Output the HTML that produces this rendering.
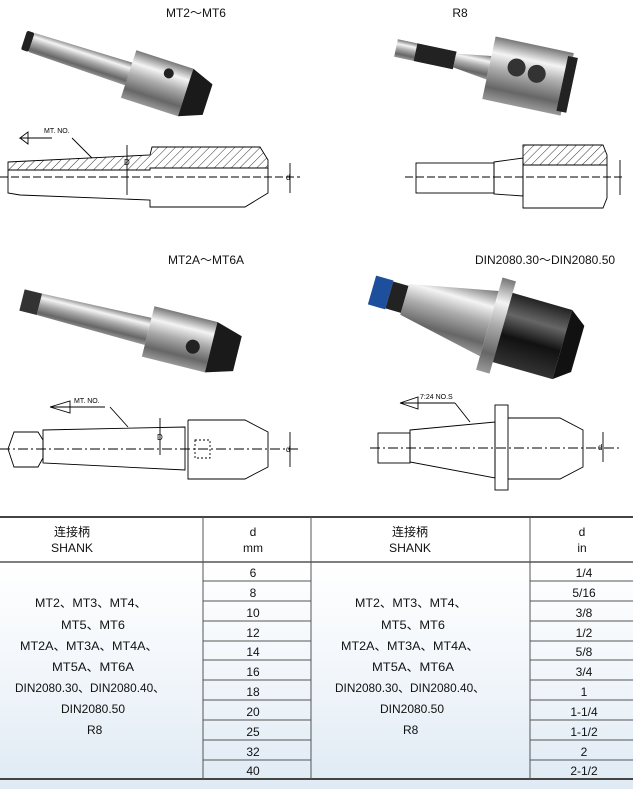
<!DOCTYPE html>
<html><head><meta charset="utf-8"><style>
body{margin:0;background:#fff;width:633px;height:789px;overflow:hidden;font-family:"Liberation Sans","Noto Sans CJK SC",sans-serif}
svg{position:absolute;left:0;top:0}
</style></head><body>
<svg width="633" height="789" viewBox="0 0 633 789" xmlns="http://www.w3.org/2000/svg">
<defs>
<linearGradient id="m" x1="0" y1="0" x2="0" y2="1">
<stop offset="0" stop-color="#777"/><stop offset=".25" stop-color="#f4f4f4"/><stop offset=".5" stop-color="#aaa"/><stop offset=".8" stop-color="#666"/><stop offset="1" stop-color="#999"/></linearGradient>
<linearGradient id="d" x1="0" y1="0" x2="0" y2="1">
<stop offset="0" stop-color="#222"/><stop offset=".3" stop-color="#666"/><stop offset=".6" stop-color="#111"/><stop offset="1" stop-color="#333"/></linearGradient>
<linearGradient id="bg" x1="0" y1="0" x2="0" y2="1">
<stop offset="0" stop-color="#fff"/><stop offset=".45" stop-color="#f3f7fb"/><stop offset="1" stop-color="#dfeaf4"/></linearGradient>
<pattern id="h" width="6" height="6" patternUnits="userSpaceOnUse" patternTransform="rotate(45)"><line x1="0" y1="0" x2="0" y2="6" stroke="#000" stroke-width="0.8"/></pattern>
</defs>
<g font-size="12" fill="#111" text-anchor="middle">
<text x="196" y="17">MT2～MT6</text><text x="460" y="17">R8</text>
<text x="206" y="264">MT2A～MT6A</text><text x="545" y="264">DIN2080.30～DIN2080.50</text>
</g>
<g transform="translate(24,40) rotate(18)">
<rect x="0" y="-10" width="8" height="20" fill="#222" rx="2"/>
<polygon points="8,-10 115,-12 115,12 8,10" fill="url(#m)"/>
<rect x="110" y="-25" width="60" height="50" fill="url(#m)"/>
<polygon points="170,-25 193,-16 193,16 170,25" fill="#1a1a1a"/>
<circle cx="148" cy="-13" r="5" fill="#222"/>
</g>
<g transform="translate(396,48) rotate(12)">
<rect x="0" y="-9" width="60" height="18" fill="url(#m)"/>
<rect x="20" y="-9" width="40" height="18" fill="#222"/>
<polygon points="60,-7 95,-12 95,12 60,7" fill="url(#m)"/>
<rect x="95" y="-32" width="80" height="64" fill="url(#m)"/>
<rect x="170" y="-28" width="10" height="56" fill="#222"/>
<circle cx="122" cy="-6" r="9" fill="#333"/><circle cx="143" cy="-4" r="9" fill="#333"/>
</g>
<g transform="translate(22,300) rotate(14)">
<rect x="0" y="-11" width="18" height="22" fill="#333"/>
<polygon points="18,-11 130,-14 130,14 18,11" fill="url(#m)"/>
<rect x="130" y="-26" width="65" height="52" fill="url(#m)"/>
<polygon points="195,-26 222,-18 222,18 195,26" fill="#1a1a1a"/>
<circle cx="177" cy="4" r="7" fill="#222"/>
</g>
<g transform="translate(372,290) rotate(16)">
<rect x="0" y="-15" width="18" height="30" fill="#1e4f9c"/>
<rect x="18" y="-14" width="16" height="28" fill="#222"/>
<polygon points="34,-16 122,-34 122,34 34,16" fill="url(#m)"/>
<rect x="122" y="-48" width="14" height="96" fill="url(#m)"/>
<rect x="136" y="-36" width="62" height="72" fill="url(#d)"/>
<polygon points="198,-36 214,-24 214,24 198,36" fill="#111"/>
</g>
<g fill="none" stroke="#000" stroke-width="0.9">
<polygon points="8,162 150,155 152,147 260,147 268,160 268,168 150,168 150,170 8,170" fill="url(#h)"/>
<polyline points="8,170 8,193 20,195 150,200 150,207 245,207 268,193 268,168"/>
<line x1="0" y1="177" x2="300" y2="177" stroke-dasharray="8,3"/>
<polyline points="52,138 20,138 28,132 28,144 20,138"/>
<line x1="72" y1="138" x2="92" y2="158"/><text x="44" y="133" font-size="7" stroke="none" fill="#000">MT. NO.</text>
<line x1="290" y1="163" x2="290" y2="193"/><text x="286" y="180" font-size="8" stroke="none" fill="#000">d</text>
<line x1="127" y1="145" x2="127" y2="195"/><text x="124" y="165" font-size="8" stroke="none" fill="#000">D</text>
<polygon points="523,145 603,145 607,155 607,165 523,165" fill="url(#h)"/>
<rect x="416" y="163" width="78" height="30"/>
<polygon points="494,162 523,158 523,196 494,194"/>
<polyline points="523,165 523,208 603,208 607,198 607,165"/>
<line x1="405" y1="177" x2="625" y2="177" stroke-dasharray="8,3"/>
<line x1="620" y1="160" x2="620" y2="195"/>
<!-- d3 -->
<polygon points="43,430 185,427 185,470 43,463"/>
<polygon points="8,449 14,432 38,432 43,440 43,458 38,467 14,467"/>
<polyline points="188,420 245,420 268,432 268,467 245,479 188,479 188,420"/>
<line x1="0" y1="449" x2="300" y2="449" stroke-dasharray="10,3,2,3"/>
<polyline points="105,407 50,407 70,401 70,413 50,407"/><line x1="110" y1="407" x2="128" y2="427"/>
<text x="74" y="403" font-size="7" stroke="none" fill="#000">MT. NO.</text>
<line x1="160" y1="418" x2="160" y2="455"/><text x="157" y="440" font-size="8" stroke="none" fill="#000">D</text>
<line x1="290" y1="432" x2="290" y2="467"/><text x="286" y="452" font-size="8" stroke="none" fill="#000">d</text>
<rect x="195" y="440" width="15" height="18" stroke-dasharray="2,2"/>
<!-- d4 -->
<rect x="378" y="433" width="32" height="30"/>
<polygon points="410,430 495,422 495,478 410,462"/>
<rect x="495" y="405" width="13" height="85"/>
<polyline points="508,418 560,418 583,430 583,467 560,479 508,479"/>
<line x1="370" y1="448" x2="620" y2="448" stroke-dasharray="10,3,2,3"/>
<polyline points="455,403 400,403 418,397 418,409 400,403"/><line x1="455" y1="403" x2="470" y2="422"/>
<text x="420" y="399" font-size="7" stroke="none" fill="#000">7:24 NO.S</text>
<line x1="603" y1="432" x2="603" y2="462"/><text x="598" y="450" font-size="8" stroke="none" fill="#000">d</text>
</g>
<rect x="0" y="561" width="633" height="228" fill="url(#bg)"/>
<line x1="0" y1="517" x2="633" y2="517" stroke="#444" stroke-width="2"/>
<line x1="0" y1="562" x2="633" y2="562" stroke="#555" stroke-width="1.5"/>
<line x1="0" y1="779" x2="633" y2="779" stroke="#444" stroke-width="2"/>
<g stroke="#555" stroke-width="1">
<line x1="203" y1="517" x2="203" y2="779"/><line x1="311" y1="517" x2="311" y2="779"/><line x1="530" y1="517" x2="530" y2="779"/>
<path d="M203 581H311M203 601H311M203 621H311M203 641H311M203 660H311M203 680H311M203 700H311M203 720H311M203 740H311M203 760H311"/>
<path d="M530 581H633M530 601H633M530 621H633M530 641H633M530 660H633M530 680H633M530 700H633M530 720H633M530 740H633M530 760H633"/>
</g>
<g font-size="12" fill="#111" text-anchor="middle">
<text x="72" y="536">连接柄</text><text x="72" y="552" textLength="42" lengthAdjust="spacingAndGlyphs">SHANK</text>
<text x="253" y="536">d</text><text x="253" y="552">mm</text>
<text x="410" y="536">连接柄</text><text x="410" y="552" textLength="42" lengthAdjust="spacingAndGlyphs">SHANK</text>
<text x="582" y="536">d</text><text x="582" y="552">in</text>
</g>
<g font-size="12" fill="#111">
<text x="35" y="607" textLength="112" lengthAdjust="spacingAndGlyphs">MT2、MT3、MT4、</text>
<text x="61" y="629" textLength="64" lengthAdjust="spacingAndGlyphs">MT5、MT6</text>
<text x="20" y="650" textLength="138" lengthAdjust="spacingAndGlyphs">MT2A、MT3A、MT4A、</text>
<text x="52" y="671" textLength="82" lengthAdjust="spacingAndGlyphs">MT5A、MT6A</text>
<text x="15" y="692" textLength="150" lengthAdjust="spacingAndGlyphs">DIN2080.30、DIN2080.40、</text>
<text x="61" y="713" textLength="64" lengthAdjust="spacingAndGlyphs">DIN2080.50</text>
<text x="87" y="734">R8</text>
<text x="355" y="607" textLength="112" lengthAdjust="spacingAndGlyphs">MT2、MT3、MT4、</text>
<text x="381" y="629" textLength="64" lengthAdjust="spacingAndGlyphs">MT5、MT6</text>
<text x="341" y="650" textLength="138" lengthAdjust="spacingAndGlyphs">MT2A、MT3A、MT4A、</text>
<text x="372" y="671" textLength="82" lengthAdjust="spacingAndGlyphs">MT5A、MT6A</text>
<text x="335" y="692" textLength="150" lengthAdjust="spacingAndGlyphs">DIN2080.30、DIN2080.40、</text>
<text x="380" y="713" textLength="64" lengthAdjust="spacingAndGlyphs">DIN2080.50</text>
<text x="403" y="734">R8</text>
</g>
<g font-size="12" fill="#111" text-anchor="middle">
<text x="253" y="577">6</text><text x="253" y="597">8</text><text x="253" y="617">10</text><text x="253" y="637">12</text><text x="253" y="656">14</text><text x="253" y="676">16</text><text x="253" y="696">18</text><text x="253" y="716">20</text><text x="253" y="736">25</text><text x="253" y="756">32</text><text x="253" y="775">40</text>
<text x="584" y="577">1/4</text><text x="584" y="597">5/16</text><text x="584" y="617">3/8</text><text x="584" y="637">1/2</text><text x="584" y="656">5/8</text><text x="584" y="676">3/4</text><text x="584" y="696">1</text><text x="584" y="716">1-1/4</text><text x="584" y="736">1-1/2</text><text x="584" y="756">2</text><text x="584" y="775">2-1/2</text>
</g>
</svg>
</body></html>
